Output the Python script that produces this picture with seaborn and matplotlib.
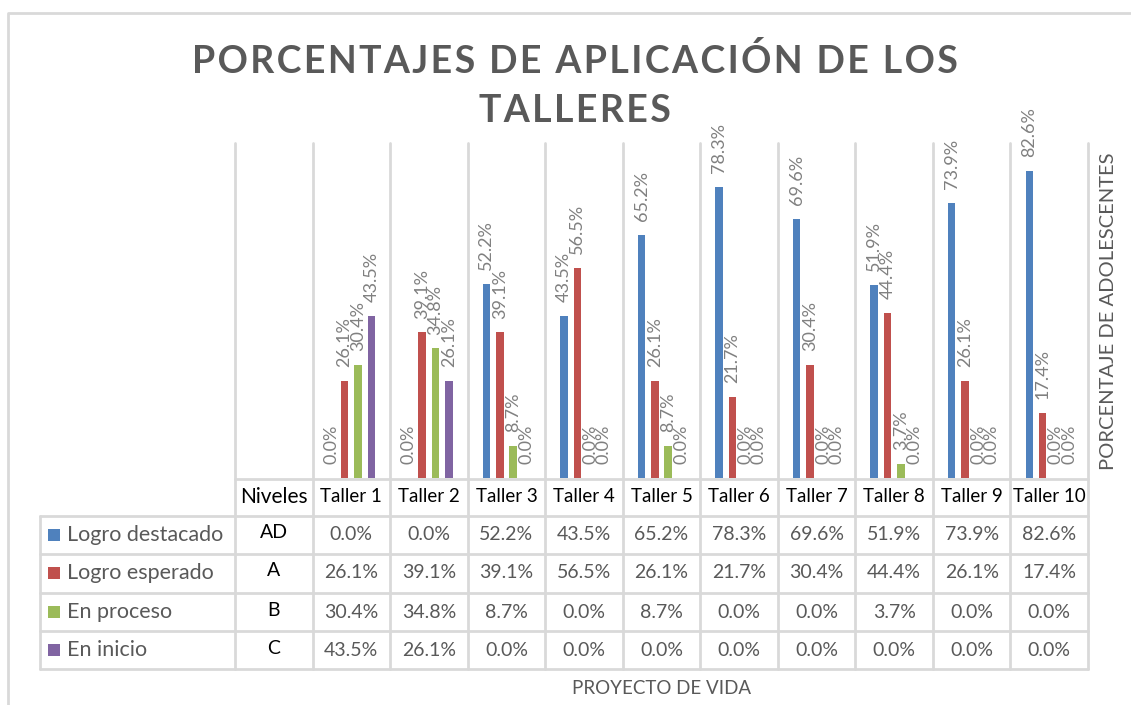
import matplotlib
matplotlib.use("Agg")
import matplotlib.pyplot as plt
import matplotlib.transforms as mtransforms
from matplotlib.lines import Line2D
from matplotlib.patches import Rectangle
import seaborn as sns
import pandas as pd

# ---------------- data ----------------
talleres = ["Taller 1", "Taller 2", "Taller 3", "Taller 4", "Taller 5",
            "Taller 6", "Taller 7", "Taller 8", "Taller 9", "Taller 10"]
series = ["Logro destacado", "Logro esperado", "En proceso", "En inicio"]
niveles = ["AD", "A", "B", "C"]
logro_destacado = [0.0, 0.0, 52.2, 43.5, 65.2, 78.3, 69.6, 51.9, 73.9, 82.6]
logro_esperado = [26.1, 39.1, 39.1, 56.5, 26.1, 21.7, 30.4, 44.4, 26.1, 17.4]
en_proceso = [30.4, 34.8, 8.7, 0.0, 8.7, 0.0, 0.0, 3.7, 0.0, 0.0]
en_inicio = [43.5, 26.1, 0.0, 0.0, 0.0, 0.0, 0.0, 0.0, 0.0, 0.0]
colors = ["#4F81BD", "#C0504D", "#9BBB59", "#8064A2"]

title_lines = ["PORCENTAJES DE APLICACIÓN DE LOS", "TALLERES"]
y_title = "PORCENTAJE DE ADOLESCENTES"
x_title = "PROYECTO DE VIDA"

values = [logro_destacado, logro_esperado, en_proceso, en_inicio]
rows = []
for s, vals in zip(series, values):
    for t, v in zip(talleres, vals):
        rows.append({"Taller": t, "Nivel": s, "Valor": v})
df = pd.DataFrame(rows)

# ---------------- figure ----------------
sns.set_theme(style="white")
plt.rcParams["font.family"] = ["Lato", "DejaVu Sans"]

W, H = 1131, 705
fig = plt.figure(figsize=(W / 100, H / 100), dpi=100)
fig.patch.set_facecolor("white")

pix = mtransforms.Affine2D().scale(1.0 / W, -1.0 / H).translate(0, 1) + fig.transFigure

ax = fig.add_axes([235 / W, 1 - 478 / H, (1088 - 235) / W, (478 - 143) / H])
sns.barplot(data=df, x="Taller", y="Valor", hue="Nivel", order=talleres,
            hue_order=series, palette=colors, width=0.686, saturation=1,
            errorbar=None, legend=False, ax=ax)
ax.set_xlim(-1.5, 9.5)
ax.set_ylim(0, 90)
for sp in ax.spines.values():
    sp.set_visible(False)
ax.set_xticks([])
ax.set_yticks([])
ax.set_xlabel("")
ax.set_ylabel("")
ax.patch.set_alpha(0)

bw = 0.097
for p in ax.patches:
    cx = p.get_x() + p.get_width() / 2
    p.set_width(bw)
    p.set_x(cx - bw / 2)
    p.set_linewidth(0)

for cont, vals in zip(ax.containers, values):
    ax.bar_label(cont, labels=[f"{v:.1f}%" for v in vals], rotation=90,
                 padding=10, color="#808080", fontsize=13)

grid_c = "#d9d9d9"
xt = mtransforms.blended_transform_factory(ax.transData, pix)

# vertical grid / table column lines
for i in range(-1, len(talleres) + 1):
    x = i - 0.5
    fig.add_artist(Line2D([x, x], [143, 669], transform=xt, color=grid_c, lw=2))
# left table column
fig.add_artist(Line2D([40, 40], [516, 669], transform=pix, color=grid_c, lw=2))
# horizontal lines
fig.add_artist(Line2D([-1.5, 9.5], [479, 479], transform=xt, color=grid_c, lw=2))
for yy in [516, 554, 593, 631, 669]:
    fig.add_artist(Line2D([40, 1088], [yy, yy], transform=pix, color=grid_c, lw=2))

# outer chart border
fig.add_artist(Line2D([8, 8, W], [H, 13, 13], transform=pix, color=grid_c, lw=2))

# header row
fig.text(-1, 497, "Niveles", transform=xt, ha="center", va="center",
         fontsize=15, color="black")
for i, t in enumerate(talleres):
    fig.text(i, 497, t, transform=xt, ha="center", va="center",
             fontsize=13.5, color="black")

row_y = [535, 573, 612, 650]
for r, (s, lvl, vals, c) in enumerate(zip(series, niveles, values, colors)):
    y = row_y[r]
    fig.add_artist(Rectangle((48, y + 6), 12, -12, transform=pix,
                             facecolor=c, edgecolor="none"))
    fig.text(67, y, s, transform=pix, ha="left", va="center",
             fontsize=15.5, color="#595959")
    fig.text(-1, y - 2, lvl, transform=xt, ha="center", va="center",
             fontsize=14, color="black")
    for i, v in enumerate(vals):
        fig.text(i, y, f"{v:.1f}%", transform=xt, ha="center", va="center",
                 fontsize=14, color="#595959")

# titles (letter-spaced with hair spaces)
hair = "\u200a"
for line, yy in zip(title_lines, [61, 111]):
    spaced = hair.join(list(line))
    fig.text(575, yy, spaced, transform=pix, ha="center", va="center",
             fontsize=27, fontweight="bold", color="#595959")
fig.text(1108, 311, y_title, transform=pix, ha="center", va="center",
         rotation=90, fontsize=14.5, color="#595959")
fig.text(662, 688, x_title, transform=pix, ha="center", va="center",
         fontsize=13.5, color="#595959")

fig.savefig("out.png", dpi=100, facecolor="white")
